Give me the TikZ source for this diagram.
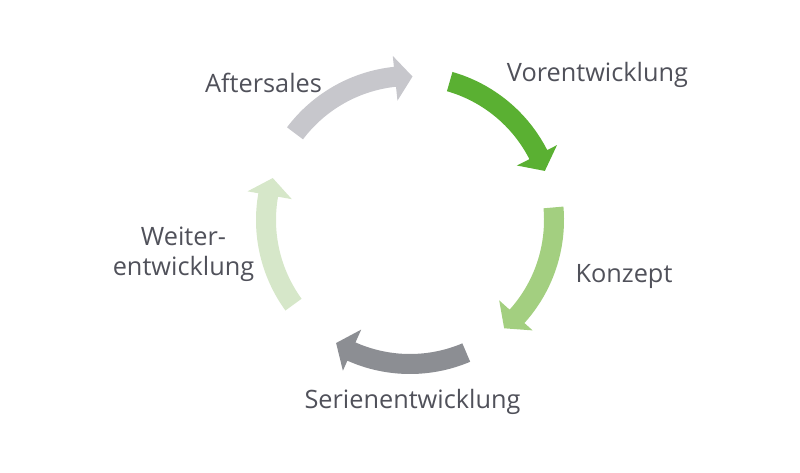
\documentclass[tikz,border=0pt]{standalone}
\usepackage{fontspec}
\setmainfont{Open Sans}

\definecolor{txtgray}{RGB}{80,81,90}
\definecolor{aftergray}{RGB}{199,199,204}
\definecolor{vorgreen}{RGB}{90,176,50}
\definecolor{konzgreen}{RGB}{163,207,128}
\definecolor{seriengray}{RGB}{140,142,147}
\definecolor{weitgreen}{RGB}{214,231,201}

\begin{document}
\begin{tikzpicture}
			% fix the page size
			\useasboundingbox (0,0) rectangle (16,9.44);
			% Text of the phases
			\tikzstyle{every node}=[font=\fontsize{14.4}{17}\selectfont,text=txtgray]

			% draw the five curved arrows round the centre
			% s: tail angle, e: tip angle, c: fill colour
			\begin{scope}[shift={(8.2,5.04)}]
			\foreach \s/\e/\c in
			{
				143/89/aftergray,
				74/20/vorgreen,
				5/-49/konzgreen,
				-67/-121/seriengray,
				-144/-197/weitgreen} {
				% h: angle of the head's base
				\pgfmathsetmacro{\h}{\e+7}
				\fill[fill=\c] (\s:2.68) arc[start angle=\s, end angle=\h, radius=2.68]
					-- (\h:2.40) -- (\e:2.87) -- (\h:3.30) -- (\h:3.08)
					arc[start angle=\h, end angle=\s, radius=3.08] -- cycle;
			}
			\end{scope}

			% label each phase
			\node[anchor=base] (vor) at (11.95,7.80) {Vorentwicklung};
			\node[anchor=base] (konzept) at (12.48,3.78) {Konzept};
			\node[anchor=base] (serie) at (8.25,1.28) {Serienentwicklung};
			\node[align=center] (weiter) at (3.67,4.36) {Weiter-\\entwicklung};
			\node[anchor=base] (after) at (5.27,7.58) {Aftersales};
		\end{tikzpicture}
\end{document}
